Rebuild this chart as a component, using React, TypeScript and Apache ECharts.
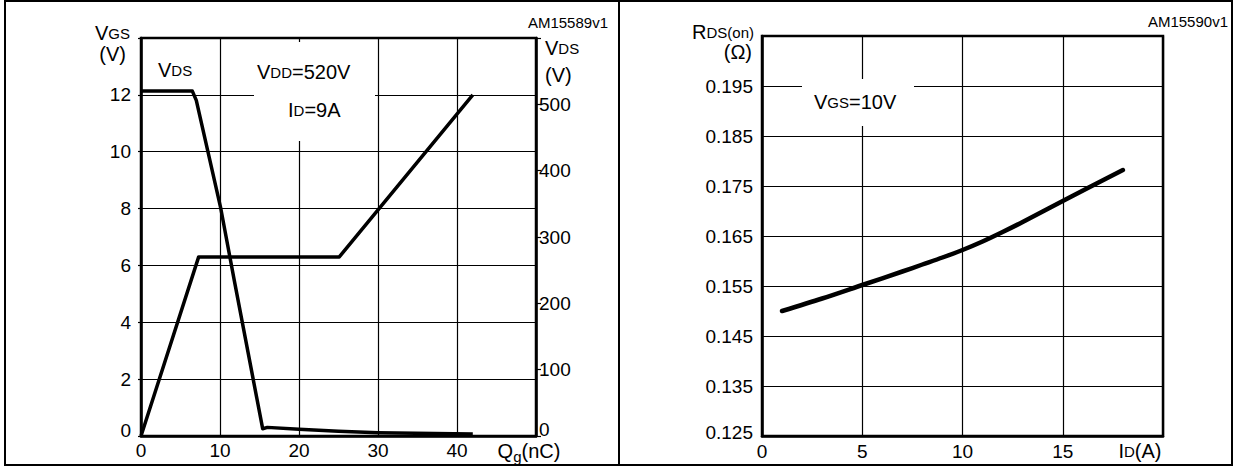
import React, { useEffect, useRef } from 'react';
import * as echarts from 'echarts';

// ---- Left chart: gate charge ----
const qgTicks = [0, 10, 20, 30, 40];
const vgsTicks = [0, 2, 4, 6, 8, 10, 12];
const vdsTicks = [0, 100, 200, 300, 400, 500];
const qgVgs = [0, 7.3, 25.1, 42];
const vgsValues = [0, 6.3, 6.3, 12.0];
const qgVds = [0, 6.5, 7.0, 10.1, 11.8, 15.4, 16.0, 20, 25, 30, 42];
const vdsValues = [520, 520, 506, 343, 235, 11, 13, 10, 7, 5, 3];

// ---- Right chart: on-resistance ----
const idTicks = [0, 5, 10, 15];
const rdsTicks = [0.125, 0.135, 0.145, 0.155, 0.165, 0.175, 0.185, 0.195];
const idValues = [1, 3, 5, 7, 8, 9, 10, 11, 12, 13, 15, 18];
const rdsValues = [0.15, 0.1525, 0.1552, 0.1579, 0.1593, 0.1607, 0.1622, 0.1639, 0.1658, 0.1678, 0.172, 0.1782];

const FONT = '"Liberation Sans", Arial, Helvetica, sans-serif';
const FS = 19;
const R0 = 0.125;

const richBase = {
  a: { fontSize: 20, fontFamily: FONT, color: '#000', verticalAlign: 'bottom' as const },
  s: { fontSize: 15, fontFamily: FONT, color: '#000', verticalAlign: 'bottom' as const, padding: [0, 0, 2, 0] },
  g: { fontSize: 15, fontFamily: FONT, color: '#000', verticalAlign: 'bottom' as const, padding: [0, 0, -3, 0] },
};

function txt(text: string, x: number, y: number, align: string = 'left') {
  return {
    type: 'text',
    x,
    y,
    z: 20,
    style: {
      text,
      rich: richBase,
      textAlign: align,
      textVerticalAlign: 'middle',
      fill: '#000',
      fontFamily: FONT,
    },
  };
}

export default function App() {
  const ref = useRef<HTMLDivElement>(null);
  useEffect(() => {
    if (!ref.current) return;
    const chart = echarts.init(ref.current, undefined, { renderer: 'svg' });

    const axisLine = { show: true, lineStyle: { color: '#000', width: 2.5 } };
    const split = { show: true, lineStyle: { color: '#000', width: 1.2 } };
    const zRich = (pad: number) => ({ z: { fontSize: FS, fontFamily: FONT, color: '#000', padding: [0, 0, pad, 0] } });
    const label = (extra: any = {}) => ({ color: '#000', fontSize: FS, fontFamily: FONT, ...extra });

    const option: any = {
      animation: false,
      backgroundColor: '#fff',
      grid: [
        { left: 141, top: 38, width: 395, height: 398, show: true, borderColor: '#000', borderWidth: 2.5, backgroundColor: '#fff' },
        { left: 762, top: 36, width: 401, height: 400, show: true, borderColor: '#000', borderWidth: 2.5, backgroundColor: '#fff' },
      ],
      xAxis: [
        {
          gridIndex: 0, type: 'value', min: 0, max: 50, interval: 10,
          axisLine, axisTick: { show: false }, splitLine: split,
          axisLabel: label({ margin: 5, formatter: (v: number) => (qgTicks.includes(v) ? String(v) : '') }),
        },
        {
          gridIndex: 1, type: 'value', min: 0, max: 20, interval: 5,
          axisLine, axisTick: { show: false }, splitLine: split,
          axisLabel: label({ margin: 6, formatter: (v: number) => (idTicks.includes(v) ? String(v) : '') }),
        },
      ],
      yAxis: [
        {
          gridIndex: 0, type: 'value', position: 'left', min: 0, max: 14, interval: 2,
          axisLine, axisTick: { show: true, length: 3, lineStyle: { color: '#000', width: 1.2 } }, splitLine: split,
          axisLabel: label({
            margin: 10,
            rich: zRich(12),
            formatter: (v: number) => (v === 0 ? '{z|0}' : vgsTicks.includes(v) ? String(v) : ''),
          }),
        },
        {
          gridIndex: 0, type: 'value', position: 'right', min: 0, max: 600, interval: 100,
          axisLine, axisTick: { show: true, length: 5, lineStyle: { color: '#000', width: 1.2 } }, splitLine: { show: false },
          axisLabel: label({
            margin: 3,
            rich: zRich(14),
            formatter: (v: number) => (v === 0 ? '{z|0}' : vdsTicks.includes(v) ? String(v) : ''),
          }),
        },
        {
          gridIndex: 1, type: 'value', min: 0, max: 80, interval: 10,
          axisLine, axisTick: { show: false }, splitLine: split,
          axisLabel: label({
            margin: 9,
            rich: zRich(8),
            formatter: (v: number) => {
              const r = +(R0 + v / 1000).toFixed(3);
              if (!rdsTicks.some((t) => Math.abs(t - r) < 1e-6)) return '';
              return v === 0 ? `{z|${r.toFixed(3)}}` : r.toFixed(3);
            },
          }),
        },
      ],
      series: [
        {
          type: 'line', xAxisIndex: 0, yAxisIndex: 0, symbol: 'none', z: 10,
          data: qgVgs.map((q, i) => [q, vgsValues[i]]),
          lineStyle: { color: '#000', width: 3.5, join: 'round' },
        },
        {
          type: 'line', xAxisIndex: 0, yAxisIndex: 1, symbol: 'none', z: 10,
          data: qgVds.map((q, i) => [q, vdsValues[i]]),
          lineStyle: { color: '#000', width: 3.5, join: 'round' },
        },
        {
          type: 'line', xAxisIndex: 1, yAxisIndex: 2, symbol: 'none', z: 10, smooth: 0.3,
          data: idValues.map((x, i) => [x, (rdsValues[i] - R0) * 1000]),
          lineStyle: { color: '#000', width: 4.5, cap: 'round', join: 'round' },
        },
      ],
      graphic: [
        // outer frame and divider
        { type: 'rect', z: 1, shape: { x: 5, y: 1, width: 1227, height: 464 }, style: { fill: 'none', stroke: '#000', lineWidth: 2 } },
        { type: 'line', z: 1, shape: { x1: 619, y1: 1, x2: 619, y2: 465 }, style: { stroke: '#000', lineWidth: 2 } },
        // white boxes behind annotations
        { type: 'rect', z: 5, shape: { x: 254, y: 42, width: 121, height: 99 }, style: { fill: '#fff' } },
        { type: 'rect', z: 5, shape: { x: 802, y: 79, width: 112, height: 47 }, style: { fill: '#fff' } },
        // left chart texts
        txt('{a|V}{s|GS}', 130, 33, 'right'),
        txt('{a|(V)}', 126, 54, 'right'),
        txt('{a|V}{s|DS}', 545, 48, 'left'),
        txt('{a|(V)}', 545, 75, 'left'),
        txt('{a|V}{s|DS}', 158, 70, 'left'),
        txt('{a|V}{s|DD}{a|=520V}', 257, 72, 'left'),
        txt('{a|I}{s|D}{a|=9A}', 288, 110, 'left'),
        txt('{a|Q}{g|g}{a|(nC)}', 529, 451, 'center'),
        { type: 'text', x: 608, y: 22, z: 20, style: { text: 'AM15589v1', fontSize: 15, fontFamily: FONT, fill: '#000', textAlign: 'right', textVerticalAlign: 'middle' } },
        // right chart texts
        txt('{a|R}{s|DS(on)}', 754, 32, 'right'),
        txt('{a|(Ω)}', 752, 52, 'right'),
        txt('{a|V}{s|GS}{a|=10V}', 814, 102, 'left'),
        txt('{a|I}{s|D}{a|(A)}', 1140, 451, 'center'),
        { type: 'text', x: 1228, y: 21, z: 20, style: { text: 'AM15590v1', fontSize: 15, fontFamily: FONT, fill: '#000', textAlign: 'right', textVerticalAlign: 'middle' } },
      ],
    };
    chart.setOption(option);
    return () => chart.dispose();
  }, []);

  return <div ref={ref} style={{ position: 'fixed', left: 0, top: 0, width: 1234, height: 467, background: '#fff' }} />;
}
